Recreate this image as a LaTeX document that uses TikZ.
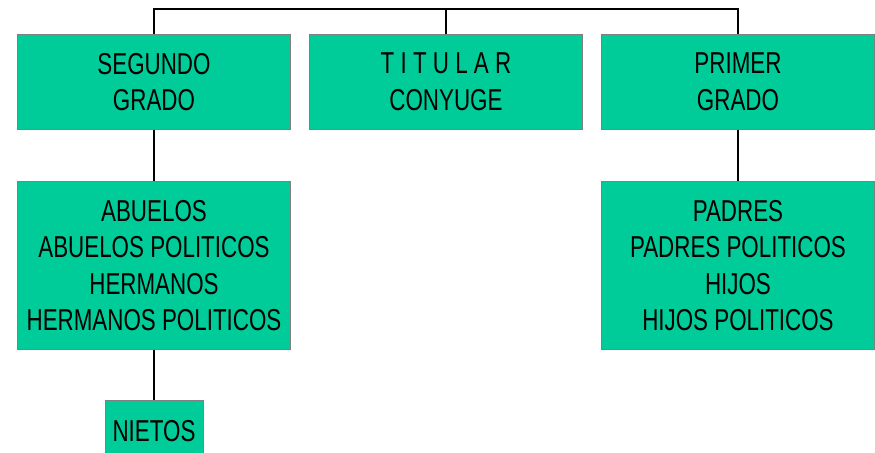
\documentclass[tikz,border=0pt]{standalone}
\usepackage{fontspec}
\setmainfont{Liberation Sans}[FakeStretch=0.74]
\usetikzlibrary{positioning}
\definecolor{boxgreen}{RGB}{0,204,153}
\definecolor{boxline}{RGB}{128,128,128}
\begin{document}
\begin{tikzpicture}[auto, node distance=1.275cm, semithick,
  main/.style = {draw=boxline, line width=0.7pt, fill=boxgreen, align=center, inner sep=0pt,
    minimum width=6.825cm, font=\fontsize{21.5}{26}\selectfont},
  small/.style = {main, minimum width=2.45cm, minimum height=1.55cm},
  link/.style = {draw=black, line width=1pt}]
\useasboundingbox (0,0) rectangle (21.875,-11.325);
\node[main, minimum height=2.375cm, anchor=north west] (1) at (0.425,-0.85) {SEGUNDO\\GRADO};
\node[main, minimum height=2.375cm] (2) [right=0.45cm of 1] {T I T U L A R\\CONYUGE};
\node[main, minimum height=2.375cm] (3) [right=0.45cm of 2] {PRIMER\\GRADO};
\node[main, minimum height=4.2cm] (4) [below=of 1] {ABUELOS\\ABUELOS POLITICOS\\HERMANOS\\HERMANOS POLITICOS};
\node[main, minimum height=4.2cm] (5) [below=of 3] {PADRES\\PADRES POLITICOS\\HIJOS\\HIJOS POLITICOS};
\node[small] (6) [below=1.25cm of 4] {NIETOS};
\path[link] (1.north) |- ([yshift=0.625cm]3.north) -- (3.north);
\path[link] (2.north) -- ++(0,0.625);
\path[link] (1) -- (4);
\path[link] (3) -- (5);
\path[link] (4) -- (6);
\end{tikzpicture}
\end{document}
